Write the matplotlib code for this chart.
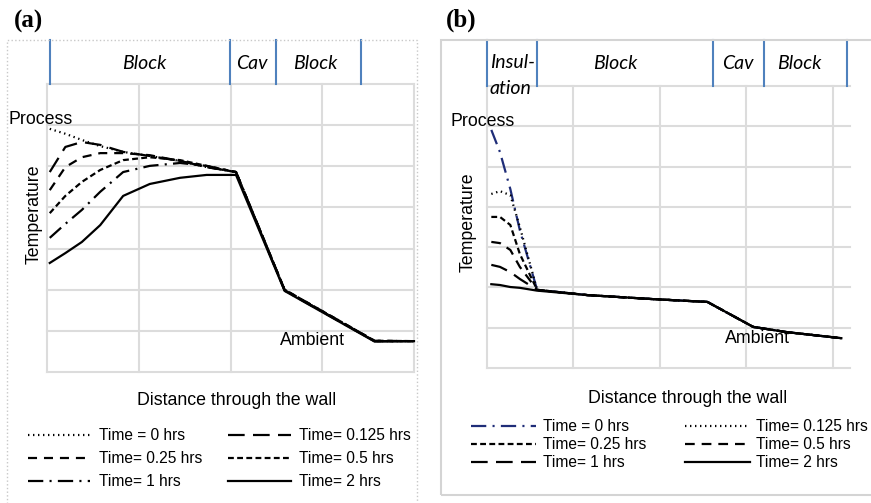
import numpy as np
import matplotlib
matplotlib.use("Agg")
import matplotlib.pyplot as plt
from matplotlib.patches import Rectangle
from matplotlib.lines import Line2D

plt.rcParams['font.family'] = ['Liberation Sans', 'DejaVu Sans']
plt.rcParams['lines.scale_dashes'] = False

W, H = 871, 503

labels = ["Time = 0 hrs", "Time= 0.125 hrs", "Time= 0.25 hrs",
          "Time= 0.5 hrs", "Time= 1 hrs", "Time= 2 hrs"]

# ---- panel (a): distance (grid units) vs temperature (grid units)
x_a = [0.03, 0.2, 0.38, 0.58, 0.83, 1.12, 1.45, 1.74, 2.06, 2.59, 3.57, 4.0]
a_t0 = [5.91, 5.79, 5.64, 5.49, 5.35, 5.25, 5.13, 4.98, 4.86, 1.99, 0.75, 0.75]
a_t0125 = [4.86, 5.47, 5.59, 5.52, 5.35, 5.25, 5.13, 4.98, 4.86, 1.99, 0.75, 0.75]
a_t025 = [4.42, 4.98, 5.22, 5.32, 5.32, 5.27, 5.13, 4.98, 4.86, 2.0, 0.76, 0.75]
a_t05 = [3.86, 4.28, 4.62, 4.91, 5.15, 5.22, 5.15, 5.01, 4.86, 2.0, 0.76, 0.75]
a_t1 = [3.26, 3.60, 3.94, 4.38, 4.86, 5.01, 5.08, 5.01, 4.86, 1.98, 0.75, 0.75]
a_t2 = [2.65, 2.89, 3.16, 3.57, 4.28, 4.57, 4.72, 4.79, 4.79, 1.97, 0.74, 0.75]
a_layers = [0.03, 1.99, 2.50, 3.42]
a_layer_names = ["Block", "Cav", "Block"]

# ---- panel (b)
x_b = [0.05, 0.15, 0.27, 0.38, 0.58, 1.16, 1.92, 2.55, 3.08, 3.47, 4.1]
b_tail = [1.81, 1.71, 1.64, 1.02, 0.89, 0.74]
b_t0 = [5.91, 5.36, 4.44, 3.42, 1.94] + b_tail
b_t0125 = [4.32, 4.39, 4.29, 3.50, 1.94] + b_tail
b_t025 = [3.75, 3.75, 3.55, 2.83, 1.94] + b_tail
b_t05 = [3.13, 3.10, 2.93, 2.51, 1.94] + b_tail
b_t1 = [2.56, 2.51, 2.38, 2.21, 1.94] + b_tail
b_t2 = [2.08, 2.06, 2.01, 1.99, 1.92] + b_tail
b_layers = [0.0, 0.58, 2.62, 3.20, 4.16]
b_layer_names = ["Block", "Cav", "Block"]

# line styles (points)
DOT = (0, (1, 2.6))
LONG = (0, (12, 6))
DASH = (0, (6.5, 5))
SHORT = (0, (4.2, 2.4))
DASHDOT = (0, (11, 4.5, 1.5, 4.5))
SOLID = '-'

a_styles = [('k', DOT), ('k', LONG), ('k', DASH), ('k', SHORT), ('k', DASHDOT), ('k', SOLID)]
b_styles = [('#1f2d78', DASHDOT), ('k', DOT), ('k', SHORT), ('k', (0, (7, 5))), ('k', LONG), ('k', SOLID)]

fig = plt.figure(figsize=(W / 100, H / 100), dpi=100)


def px_axes(x0, y0, x1, y1):
    return fig.add_axes([x0 / W, 1 - y1 / H, (x1 - x0) / W, (y1 - y0) / H])


def ftext(x, y, s, **kw):
    fig.text(x / W, 1 - y / H, s, **kw)


def grid_me(ax, xmax):
    ax.set_xlim(0, xmax)
    ax.set_ylim(0, 7)
    ax.set_xticks(range(5))
    ax.set_yticks(range(8))
    ax.tick_params(length=0, labelbottom=False, labelleft=False)
    for s in ax.spines.values():
        s.set_visible(False)
    ax.grid(color='#dcdcdc', lw=1.5)
    for gl in ax.get_xgridlines() + ax.get_ygridlines():
        gl.set_clip_on(False)
    ax.set_axisbelow(True)


def header(ax, xmax, bounds, names):
    ax.set_xlim(0, xmax)
    ax.set_ylim(0, 1)
    ax.axis('off')
    for b in bounds:
        ax.axvline(b, color='#4f81bd', lw=1.5, clip_on=False)


# panel (a)
ax = px_axes(47, 84, 414, 372)
grid_me(ax, 4)
for ys, (c, ls) in zip([a_t0, a_t0125, a_t025, a_t05, a_t1, a_t2], a_styles):
    ax.plot(x_a, ys, color=c, ls=ls, lw=1.6, clip_on=False)
hx = px_axes(47, 40, 414, 84)
header(hx, 4, a_layers, a_layer_names)

# panel (b)
bx = px_axes(487, 86, 850, 368)
grid_me(bx, 4.2)
for ys, (c, ls) in zip([b_t0, b_t0125, b_t025, b_t05, b_t1, b_t2], b_styles):
    bx.plot(x_b, ys, color=c, ls=ls, lw=1.6, clip_on=False)
hb = px_axes(487, 40, 850, 86)
header(hb, 4.2, b_layers, b_layer_names)

# frames
fig.add_artist(Rectangle((7 / W, 1 - 520 / H), 410 / W, 480 / H, transform=fig.transFigure,
                         fill=False, ec='#c8c8c8', ls=':', lw=1))
fig.add_artist(Rectangle((441 / W, 1 - 495 / H), 440 / W, 455 / H, transform=fig.transFigure,
                         fill=False, ec='#d4d4d4', lw=1.5))

# header labels
hfont = dict(family=['Lato', 'DejaVu Sans'], style='italic', fontsize=14, va='baseline')
ftext(144, 69, "Block", ha='center', **hfont)
ftext(252, 69, "Cav", ha='center', **hfont)
ftext(315, 69, "Block", ha='center', **hfont)
ftext(490, 68, "Insul-", ha='left', **hfont)
ftext(490, 94, "ation", ha='left', **hfont)
ftext(615, 69, "Block", ha='center', **hfont)
ftext(738, 69, "Cav", ha='center', **hfont)
ftext(799, 69, "Block", ha='center', **hfont)

# panel letters
pfont = dict(family=['Liberation Serif', 'DejaVu Serif'], fontweight='bold', fontsize=18, va='baseline')
ftext(14, 28, "(a)", **pfont)
ftext(446, 27, "(b)", **pfont)

fs = 12.8
ftext(8, 124, "Process", fontsize=fs, va='baseline')
ftext(450, 126, "Process", fontsize=fs, va='baseline')
ftext(280, 345, "Ambient", fontsize=fs, va='baseline')
ftext(725, 343, "Ambient", fontsize=fs, va='baseline')
ftext(237, 405, "Distance through the wall", fontsize=fs, ha='center', va='baseline')
ftext(688, 403, "Distance through the wall", fontsize=fs, ha='center', va='baseline')
ftext(34, 214, "Temperature", fontsize=fs, rotation=90, ha='center', va='center')
ftext(468, 222, "Temperature", fontsize=fs, rotation=90, ha='center', va='center')


# legends: row-wise order -> column-wise for ncol=2
def make_legend(styles, anchor, handlelength, textpad, colspace, labelspacing):
    handles = [Line2D([], [], color=c, ls=ls, lw=1.6) for c, ls in styles]
    order = [0, 2, 4, 1, 3, 5]
    fig.legend([handles[i] for i in order], [labels[i] for i in order], ncol=2,
               loc='upper left', bbox_to_anchor=(anchor[0] / W, 1 - anchor[1] / H),
               frameon=False, fontsize=11.2, borderpad=0, borderaxespad=0,
               handlelength=handlelength, handletextpad=textpad,
               columnspacing=colspace, labelspacing=labelspacing)


make_legend(a_styles, (28, 428), 4.0, 0.55, 1.7, 0.52)
make_legend(b_styles, (471, 419), 4.2, 0.4, 2.5, 0.2)

fig.savefig('out.png', dpi=100)
